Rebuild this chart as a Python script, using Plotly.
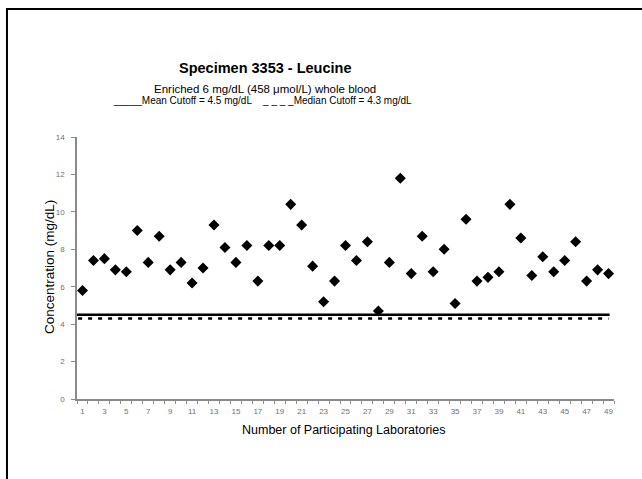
import plotly.graph_objects as go

# Leucine results reported by each participating laboratory (mg/dL)
labs = list(range(1, 50))
leucine = [5.8, 7.4, 7.5, 6.9, 6.8, 9.0, 7.3, 8.7, 6.9, 7.3,
           6.2, 7.0, 9.3, 8.1, 7.3, 8.2, 6.3, 8.2, 8.2, 10.4,
           9.3, 7.1, 5.2, 6.3, 8.2, 7.4, 8.4, 4.7, 7.3, 11.8,
           6.7, 8.7, 6.8, 8.0, 5.1, 9.6, 6.3, 6.5, 6.8, 10.4,
           8.6, 6.6, 7.6, 6.8, 7.4, 8.4, 6.3, 6.9, 6.7]

mean_cutoff = 4.5
median_cutoff = 4.3
x_labels = [str(v) for v in range(1, 50, 2)]
y_ticks = [0, 2, 4, 6, 8, 10, 12, 14]

FONT = "Liberation Sans, Arial, sans-serif"
NARROW = "Liberation Sans Narrow, Arial Narrow, Liberation Sans, sans-serif"
GRAY = "#8a8a8a"

fig = go.Figure()

# cutoff reference lines
fig.add_trace(go.Scatter(
    x=[0.5, 49.1], y=[mean_cutoff, mean_cutoff], mode="lines",
    line=dict(color="black", width=2.5), hoverinfo="skip", showlegend=False))
fig.add_trace(go.Scatter(
    x=[0.6, 49], y=[median_cutoff, median_cutoff], mode="lines",
    line=dict(color="black", width=2.5, dash="4px,6px"), hoverinfo="skip",
    showlegend=False))

# laboratory results
fig.add_trace(go.Scatter(
    x=labs, y=leucine, mode="markers",
    marker=dict(symbol="diamond", size=8.5, color="black"),
    showlegend=False))


def note(text, x, y, size, family=FONT, angle=0):
    return dict(text=text, x=x, y=y, xref="paper", yref="paper",
                xanchor="center", yanchor="middle", showarrow=False,
                textangle=angle, font=dict(size=size, family=family))


fig.update_layout(
    width=642, height=479,
    margin=dict(l=77, r=28, t=137, b=80),
    paper_bgcolor="white", plot_bgcolor="white",
    font=dict(family=FONT, color="black"),
    xaxis=dict(
        range=[0.5, 49.5], tickmode="array",
        tickvals=list(range(1, 50, 2)), ticktext=x_labels,
        showgrid=False, zeroline=False, showline=True,
        linecolor=GRAY, linewidth=1.5, ticks="",
        ticklabelstandoff=4,
        tickfont=dict(size=8, color="#707070", family=FONT),
        minor=dict(tickmode="linear", tick0=0.5, dtick=1, ticks="outside",
                   ticklen=3, tickcolor=GRAY, showgrid=False),
    ),
    yaxis=dict(
        range=[0, 14], tickmode="array", tickvals=y_ticks,
        showgrid=False, zeroline=False, showline=True,
        linecolor=GRAY, linewidth=1.5, ticks="outside", ticklen=4,
        tickcolor=GRAY, ticklabelstandoff=5,
        tickfont=dict(size=8, color="#707070", family=FONT),
    ),
    annotations=[
        note("<b>Specimen 3353 - Leucine</b>", 0.35, 1.263, 14.5),
        note("Enriched 6 mg/dL (458 μmol/L) whole blood", 0.35, 1.183, 11.5),
        note("_____Mean Cutoff = 4.5 mg/dL\u00a0\u00a0\u00a0\u00a0_ _ _ _Median Cutoff = 4.3 mg/dL",
             0.346, 1.141, 10, NARROW),
        note("Concentration (mg/dL)", -0.05, 0.504, 13.5, angle=-90),
        note("Number of Participating Laboratories", 0.498, -0.118, 12.5),
    ],
    shapes=[
        dict(type="rect", xref="paper", yref="paper",
             x0=-0.1304, y0=1.4885, x1=1.2, y1=-0.5,
             line=dict(color="black", width=2)),
    ],
)

fig.write_html("out.html")
